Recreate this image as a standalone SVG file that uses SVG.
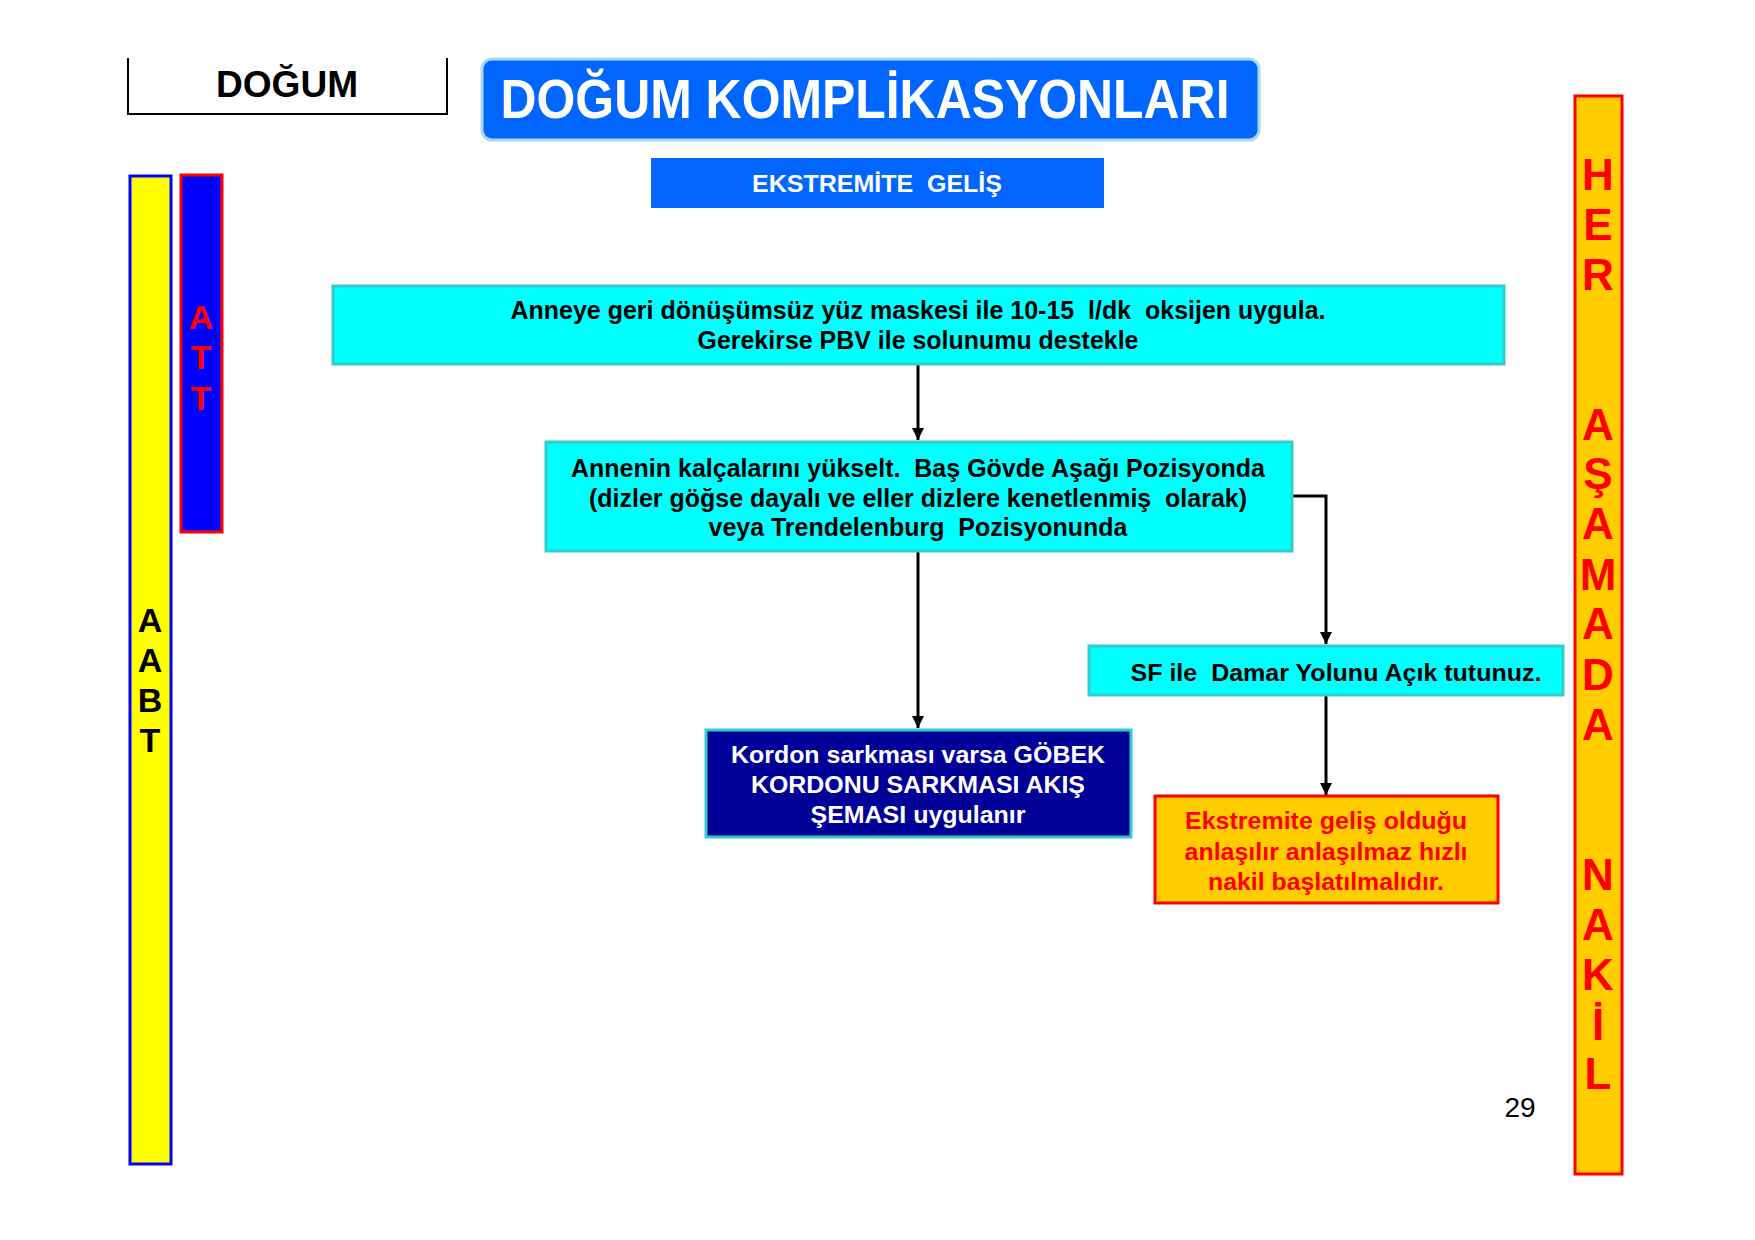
<svg xmlns="http://www.w3.org/2000/svg" width="1755" height="1240" viewBox="0 0 1755 1240">
<defs>
<style>
text{font-family:"Liberation Sans",Arial,sans-serif;font-weight:bold;text-anchor:middle;white-space:pre}
.cy{fill:#00FFFF;stroke:#33CCCC;stroke-width:3}
.bk{fill:#000}
.wh{fill:#fff}
.rd{fill:#FF0000}
.ln{stroke:#000;stroke-width:3;fill:none}
</style>
<marker id="arr" markerWidth="12" markerHeight="12" refX="12" refY="6" orient="auto" markerUnits="userSpaceOnUse" viewBox="0 0 12 12">
<path d="M0,0 L12,6 L0,12 Z" fill="#000"/>
</marker>
</defs>
<rect width="1755" height="1240" fill="#fff"/>

<g id="dogum">
<path d="M128,58 V114 H447 V58" fill="none" stroke="#000" stroke-width="2"/>
<text x="287" y="97" font-size="36" class="bk" textLength="142" lengthAdjust="spacingAndGlyphs">DOĞUM</text>
</g>

<g id="title">
<rect x="482" y="59" width="777" height="81" rx="10" fill="#0066FF" stroke="#A8D8EA" stroke-width="3"/>
<text x="865" y="118" font-size="55" class="wh" textLength="729" lengthAdjust="spacingAndGlyphs">DOĞUM KOMPLİKASYONLARI</text>
</g>

<g id="subtitle">
<rect x="651" y="158" width="453" height="50" fill="#0066FF"/>
<text x="877" y="192" font-size="24" class="wh" textLength="250" lengthAdjust="spacingAndGlyphs">EKSTREMİTE  GELİŞ</text>
</g>

<g id="aabt">
<rect x="130" y="176" width="41" height="988" fill="#FFFF00" stroke="#0000FF" stroke-width="3"/>
<text x="150" y="632" font-size="34" class="bk">A</text>
<text x="150" y="672" font-size="34" class="bk">A</text>
<text x="150" y="712" font-size="34" class="bk">B</text>
<text x="150" y="752" font-size="34" class="bk">T</text>
</g>

<g id="att">
<rect x="181" y="175" width="41" height="357" fill="#0000FF" stroke="#FF0000" stroke-width="3"/>
<text x="201" y="329" font-size="34" class="rd">A</text>
<text x="201" y="369" font-size="34" class="rd">T</text>
<text x="201" y="410" font-size="34" class="rd">T</text>
</g>

<g id="her-asamada-nakil">
<rect x="1575" y="96" width="47" height="1078" fill="#FFCC00" stroke="#FF0000" stroke-width="3"/>
<text x="1598" y="190" font-size="44" class="rd">H</text>
<text x="1598" y="240" font-size="44" class="rd">E</text>
<text x="1598" y="290" font-size="44" class="rd">R</text>
<text x="1598" y="440" font-size="44" class="rd">A</text>
<text x="1598" y="489" font-size="44" class="rd">Ş</text>
<text x="1598" y="539" font-size="44" class="rd">A</text>
<text x="1598" y="590" font-size="44" class="rd">M</text>
<text x="1598" y="639" font-size="44" class="rd">A</text>
<text x="1598" y="690" font-size="44" class="rd">D</text>
<text x="1598" y="740" font-size="44" class="rd">A</text>
<text x="1598" y="890" font-size="44" class="rd">N</text>
<text x="1598" y="940" font-size="44" class="rd">A</text>
<text x="1598" y="990" font-size="44" class="rd">K</text>
<text x="1598" y="1040" font-size="44" class="rd">İ</text>
<text x="1598" y="1089" font-size="44" class="rd">L</text>
</g>

<g id="connectors">
<line x1="918" y1="364" x2="918" y2="440" class="ln" marker-end="url(#arr)"/>
<polyline points="1292,496 1326,496 1326,644" class="ln" marker-end="url(#arr)"/>
<line x1="918" y1="551" x2="918" y2="728" class="ln" marker-end="url(#arr)"/>
<line x1="1326" y1="695" x2="1326" y2="795" class="ln" marker-end="url(#arr)"/>
</g>

<g id="box-oksijen">
<rect x="333" y="286" width="1171" height="78" class="cy"/>
<text x="918" y="319" font-size="26" class="bk" textLength="815" lengthAdjust="spacingAndGlyphs">Anneye geri dönüşümsüz yüz maskesi ile 10-15  l/dk  oksijen uygula.</text>
<text x="918" y="349" font-size="26" class="bk" textLength="441" lengthAdjust="spacingAndGlyphs">Gerekirse PBV ile solunumu destekle</text>
</g>

<g id="box-pozisyon">
<rect x="546" y="442" width="746" height="109" class="cy"/>
<text x="918" y="477" font-size="26" class="bk" textLength="694" lengthAdjust="spacingAndGlyphs">Annenin kalçalarını yükselt.  Baş Gövde Aşağı Pozisyonda</text>
<text x="918" y="507" font-size="26" class="bk" textLength="658" lengthAdjust="spacingAndGlyphs">(dizler göğse dayalı ve eller dizlere kenetlenmiş  olarak)</text>
<text x="918" y="536" font-size="26" class="bk" textLength="419" lengthAdjust="spacingAndGlyphs">veya Trendelenburg  Pozisyonunda</text>
</g>

<g id="box-sf">
<rect x="1089" y="646" width="474" height="49" class="cy"/>
<text x="1336" y="681" font-size="24" class="bk" textLength="411" lengthAdjust="spacingAndGlyphs">SF ile  Damar Yolunu Açık tutunuz.</text>
</g>

<g id="box-kordon">
<rect x="706" y="730" width="425" height="107" fill="#000099" stroke="#33CCCC" stroke-width="3"/>
<text x="918" y="763" font-size="24" class="wh" textLength="374" lengthAdjust="spacingAndGlyphs">Kordon sarkması varsa GÖBEK</text>
<text x="918" y="793" font-size="24" class="wh" textLength="334" lengthAdjust="spacingAndGlyphs">KORDONU SARKMASI AKIŞ</text>
<text x="918" y="823" font-size="24" class="wh" textLength="215" lengthAdjust="spacingAndGlyphs">ŞEMASI uygulanır</text>
</g>

<g id="box-nakil">
<rect x="1155" y="796" width="343" height="107" fill="#FFCC00" stroke="#FF0000" stroke-width="3"/>
<text x="1326" y="829" font-size="24" class="rd" textLength="282" lengthAdjust="spacingAndGlyphs">Ekstremite geliş olduğu</text>
<text x="1326" y="860" font-size="24" class="rd" textLength="283" lengthAdjust="spacingAndGlyphs">anlaşılır anlaşılmaz hızlı</text>
<text x="1326" y="890" font-size="24" class="rd" textLength="236" lengthAdjust="spacingAndGlyphs">nakil başlatılmalıdır.</text>
</g>

<text x="1520" y="1117" font-size="28" style="font-weight:normal" class="bk">29</text>
</svg>
